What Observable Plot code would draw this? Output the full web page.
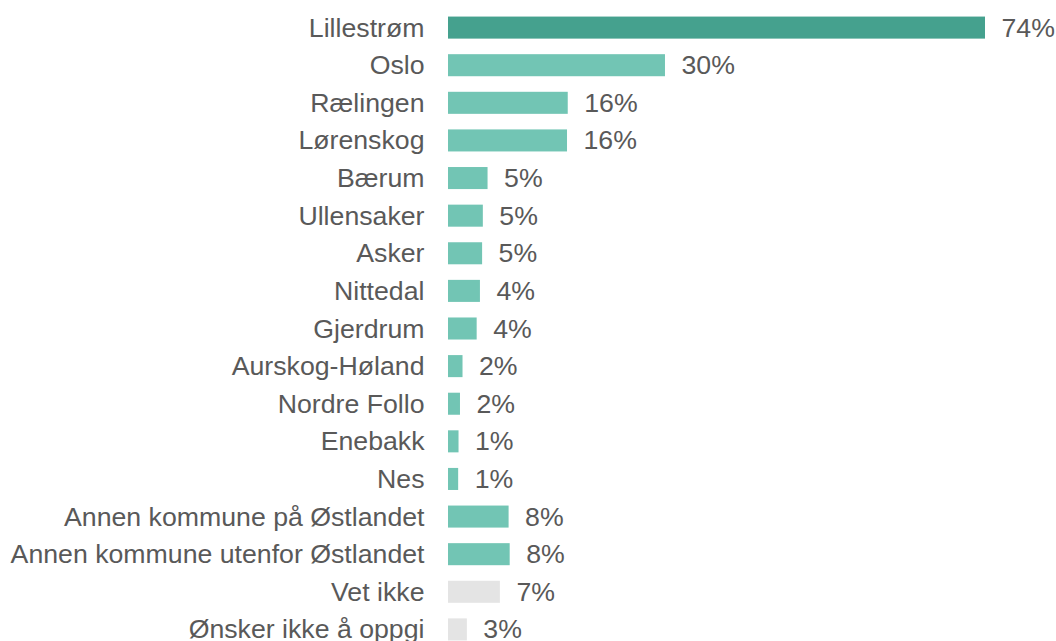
<!DOCTYPE html>
<html>
<head>
<meta charset="utf-8">
<script src="https://cdn.jsdelivr.net/npm/d3@7"></script>
<script src="https://cdn.jsdelivr.net/npm/@observablehq/plot@0.6"></script>
<style>
  html, body { margin: 0; padding: 0; background: #ffffff; overflow: hidden; }
  #chart svg { display: block; }
</style>
</head>
<body>
<div id="chart"></div>
<script>
const categories = [
  "Lillestrøm", "Oslo", "Rælingen", "Lørenskog", "Bærum", "Ullensaker", "Asker",
  "Nittedal", "Gjerdrum", "Aurskog-Høland", "Nordre Follo", "Enebakk", "Nes",
  "Annen kommune på Østlandet", "Annen kommune utenfor Østlandet", "Vet ikke",
  "Ønsker ikke å oppgi"
];
const values = [74, 29.9, 16.5, 16.4, 5.45, 4.8, 4.7, 4.4, 3.95, 2.0, 1.65, 1.45, 1.4, 8.35, 8.5, 7.15, 2.6];
const labels = ["74%", "30%", "16%", "16%", "5%", "5%", "5%", "4%", "4%", "2%", "2%", "1%", "1%", "8%", "8%", "7%", "3%"];
const groups = ["main", "kommune", "kommune", "kommune", "kommune", "kommune", "kommune",
  "kommune", "kommune", "kommune", "kommune", "kommune", "kommune", "kommune", "kommune",
  "other", "other"];

const data = categories.map((c, i) => ({name: c, value: values[i], label: labels[i], group: groups[i]}));

const chart = Plot.plot({
  width: 1056,
  height: 656,
  marginTop: 1,
  marginBottom: 0,
  marginLeft: 448,
  marginRight: 71,
  style: {fontFamily: "'Liberation Sans', Arial, sans-serif", fontSize: "26.7px", color: "#595959", background: "#ffffff"},
  x: {domain: [0, 74], axis: null},
  y: {domain: categories, padding: 0.414, round: false, label: null, tickSize: 0, tickPadding: 24},
  color: {domain: ["main", "kommune", "other"], range: ["#45a18e", "#72c5b4", "#e4e4e4"]},
  marks: [
    Plot.barX(data, {x: "value", y: "name", fill: "group"}),
    Plot.text(data, {x: "value", y: "name", text: "label", textAnchor: "start", dx: 16,
      fill: "#595959", fontSize: 26.7}),
    Plot.axisY({tickSize: 0, tickPadding: 24, label: null, fontSize: 26.7, color: "#595959"})
  ]
});
document.getElementById("chart").appendChild(chart);
</script>
</body>
</html>
